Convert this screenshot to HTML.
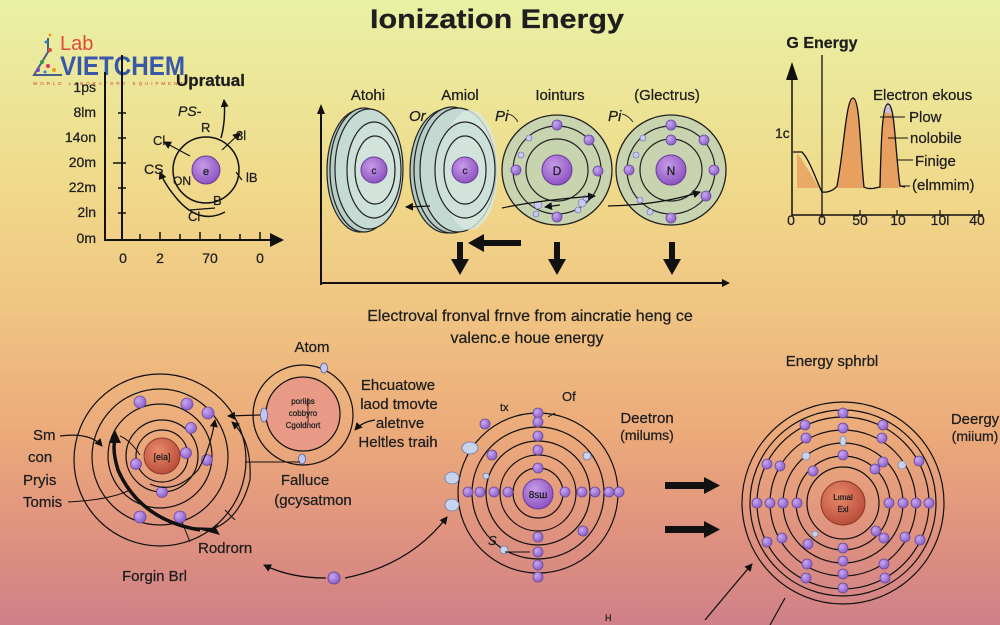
<!DOCTYPE html>
<html><head><meta charset="utf-8"><style>
html,body{margin:0;padding:0;width:1000px;height:625px;overflow:hidden}
svg{display:block}
text{font-family:"Liberation Sans",sans-serif;fill:#1e1e1e;stroke:#1e1e1e;stroke-width:0.25}
</style></head><body>
<svg width="1000" height="625" viewBox="0 0 1000 625" xmlns="http://www.w3.org/2000/svg">
<defs>
<linearGradient id="bg" x1="0" y1="0" x2="0" y2="1">
<stop offset="0" stop-color="#e9f1a4"/>
<stop offset="0.3" stop-color="#f0d98a"/>
<stop offset="0.5" stop-color="#f0c482"/>
<stop offset="0.7" stop-color="#eba97a"/>
<stop offset="0.87" stop-color="#de9080"/>
<stop offset="1" stop-color="#cf8088"/>
</linearGradient>
<radialGradient id="nuc" cx="0.4" cy="0.35" r="0.7">
<stop offset="0" stop-color="#c79be8"/><stop offset="1" stop-color="#8a4fbf"/>
</radialGradient>
<radialGradient id="red" cx="0.4" cy="0.35" r="0.7">
<stop offset="0" stop-color="#e88a6a"/><stop offset="1" stop-color="#b84a38"/>
</radialGradient>
<radialGradient id="el" cx="0.35" cy="0.35" r="0.7">
<stop offset="0" stop-color="#c8a8f0"/><stop offset="1" stop-color="#8a5cc8"/>
</radialGradient>
<marker id="ah" markerWidth="8" markerHeight="8" refX="7" refY="4" orient="auto" markerUnits="userSpaceOnUse">
<path d="M0,0 L8,4 L0,8 z" fill="#111"/></marker>
<marker id="ahb" markerWidth="14" markerHeight="14" refX="12" refY="7" orient="auto" markerUnits="userSpaceOnUse">
<path d="M0,0 L14,7 L0,14 z" fill="#111"/></marker>
</defs>
<rect width="1000" height="625" fill="url(#bg)"/>

<!-- Title -->
<text x="497" y="28" font-size="27" font-weight="bold" text-anchor="middle" textLength="254" lengthAdjust="spacingAndGlyphs">Ionization Energy</text>

<!-- Logo -->
<g>
<path d="M48,38 L48,52 L34,75 L62,75" fill="none" stroke="#4a5c8a" stroke-width="2"/>
<circle cx="50" cy="35" r="1.5" fill="#e8a020"/><circle cx="46" cy="42" r="1.5" fill="#3080d0"/>
<circle cx="50" cy="50" r="2" fill="#e05030"/><circle cx="42" cy="62" r="2" fill="#30a050"/>
<circle cx="48" cy="66" r="2" fill="#e03060"/><circle cx="38" cy="70" r="2" fill="#8040c0"/>
<circle cx="54" cy="70" r="2" fill="#e8a020"/><circle cx="45" cy="72" r="1.5" fill="#3080d0"/>
<text x="60" y="50" font-size="20" style="fill:#e04a3a;stroke:none">Lab</text>
<text x="60" y="75" font-size="27" font-weight="bold" style="fill:#3a58a8;stroke:none" textLength="125" lengthAdjust="spacingAndGlyphs">VIETCHEM</text>
<text x="33" y="85" font-size="4.5" style="fill:#d03a30;stroke:none" textLength="150" lengthAdjust="spacing">WORLD LABORATORY EQUIPMENT</text>
</g>

<!-- Top-left chart -->
<g stroke="#111" stroke-width="2" fill="none">
<line x1="105" y1="72" x2="105" y2="241"/>
<line x1="122" y1="55" x2="122" y2="241"/>
<line x1="105" y1="240" x2="282" y2="240" marker-end="url(#ahb)"/>
</g>
<g stroke="#111" stroke-width="1.5">
<line x1="118" y1="113" x2="126" y2="113"/><line x1="118" y1="138" x2="126" y2="138"/>
<line x1="113" y1="163" x2="126" y2="163"/><line x1="118" y1="188" x2="126" y2="188"/>
<line x1="118" y1="213" x2="126" y2="213"/>
<line x1="140" y1="234" x2="140" y2="240"/><line x1="160" y1="232" x2="160" y2="240"/>
<line x1="180" y1="234" x2="180" y2="240"/><line x1="200" y1="232" x2="200" y2="240"/>
<line x1="220" y1="234" x2="220" y2="240"/><line x1="240" y1="234" x2="240" y2="240"/>
<line x1="260" y1="232" x2="260" y2="240"/>
</g>
<g font-size="14" text-anchor="end">
<text x="96" y="92">1ps</text><text x="96" y="117">8lm</text><text x="96" y="142">14on</text>
<text x="96" y="167">20m</text><text x="96" y="192">22m</text><text x="96" y="217">2ln</text>
<text x="96" y="243">0m</text>
</g>
<g font-size="14" text-anchor="middle">
<text x="123" y="263">0</text><text x="160" y="263">2</text><text x="210" y="263">70</text><text x="260" y="263">0</text>
</g>
<text x="176" y="86" font-size="17" font-weight="bold">Upratual</text>
<circle cx="206" cy="170" r="33" fill="none" stroke="#111" stroke-width="1.5"/>
<circle cx="206" cy="170" r="14" fill="url(#nuc)" stroke="#6a3a9a"/>
<text x="206" y="175" font-size="11" text-anchor="middle">e</text>
<path d="M221,138 Q226,120 224,100" fill="none" stroke="#111" stroke-width="1.5" marker-end="url(#ah)"/>
<path d="M222,150 L240,133" stroke="#111" stroke-width="1.2" marker-end="url(#ah)"/>
<path d="M190,156 L164,142" stroke="#111" stroke-width="1.2" marker-end="url(#ah)"/>
<path d="M225,212 Q200,225 178,200 Q165,185 160,172" fill="none" stroke="#111" stroke-width="1.5" marker-end="url(#ah)"/>
<path d="M190,210 L215,208" stroke="#111" stroke-width="1.2"/>
<path d="M236,172 L242,180" stroke="#111" stroke-width="1.2"/>
<g font-size="13">
<text x="178" y="116" font-style="italic" font-size="14">PS-</text>
<text x="201" y="132">R</text><text x="236" y="140">3l</text>
<text x="153" y="145">Cl</text><text x="144" y="174" font-size="14">CS</text>
<text x="173" y="185" font-size="12">ON</text><text x="246" y="182">lB</text>
<text x="213" y="205">B</text><text x="188" y="221">Cl</text>
</g>

<!-- Top-middle chart -->
<g stroke="#111" stroke-width="2" fill="none">
<line x1="321" y1="112" x2="321" y2="285"/>
<line x1="320" y1="283" x2="728" y2="283"/>
</g>
<path d="M317,114 L321,104 L325,114z" fill="#111"/>
<path d="M722,279 L730,283 L722,287z" fill="#111"/>
<g font-size="15" text-anchor="middle">
<text x="368" y="100">Atohi</text><text x="460" y="100">Amiol</text>
<text x="560" y="100">Iointurs</text><text x="667" y="100">(Glectrus)</text>
</g>
<g font-size="15" font-style="italic">
<text x="409" y="121">Or</text><text x="495" y="121">Pi</text><text x="608" y="121">Pi</text>
</g>
<path d="M508,114 Q514,115 518,122" stroke="#333" fill="none"/>
<path d="M622,114 Q628,115 633,122" stroke="#333" fill="none"/>
<!-- disc 1 -->
<ellipse cx="360" cy="171" rx="33" ry="61" fill="#b2c9c2" stroke="#222" stroke-width="1.2"/>
<ellipse cx="364" cy="170" rx="34" ry="62" fill="#b7cdc6" stroke="#222" stroke-width="1.2"/>
<ellipse cx="369" cy="169" rx="34" ry="60" fill="#c6dbd4" stroke="#222" stroke-width="1.2"/>
<ellipse cx="374" cy="170" rx="27" ry="48" fill="#cde0d9" stroke="#222" stroke-width="1.2"/>
<ellipse cx="375" cy="170" rx="20" ry="34" fill="#d2e3dc" stroke="#222" stroke-width="1.2"/>
<circle cx="374" cy="170" r="13" fill="url(#nuc)" stroke="#6a3a9a"/>
<text x="374" y="174" font-size="10" text-anchor="middle">c</text>
<!-- disc 2 -->
<ellipse cx="447" cy="171" rx="37" ry="62" fill="#b2c9c2" stroke="#222" stroke-width="1.2"/>
<ellipse cx="452" cy="170" rx="38" ry="63" fill="#b7cdc6" stroke="#222" stroke-width="1.2"/>
<ellipse cx="458" cy="170" rx="38" ry="62" fill="#c4d9d2" stroke="#222" stroke-width="1.2"/>
<ellipse cx="470" cy="170" rx="28" ry="60" fill="#d8e8e0" stroke="none" opacity="0.8"/>
<ellipse cx="465" cy="170" rx="30" ry="48" fill="#cde0d9" stroke="#222" stroke-width="1.2"/>
<ellipse cx="465" cy="170" rx="21" ry="34" fill="#d2e3dc" stroke="#222" stroke-width="1.2"/>
<circle cx="465" cy="170" r="13" fill="url(#nuc)" stroke="#6a3a9a"/>
<text x="465" y="174" font-size="10" text-anchor="middle">c</text>
<path d="M430,206 L406,207" stroke="#111" stroke-width="1.3" marker-end="url(#ah)"/>
<!-- atom 3 -->
<circle cx="557" cy="170" r="55" fill="#c8d3af" stroke="#222" stroke-width="1.3"/>
<circle cx="557" cy="170" r="44" fill="none" stroke="#222" stroke-width="1.2"/>
<circle cx="557" cy="170" r="31" fill="none" stroke="#222" stroke-width="1.2"/>
<circle cx="557" cy="170" r="15" fill="url(#nuc)" stroke="#6a3a9a"/>
<text x="557" y="175" font-size="12" text-anchor="middle">D</text>
<g fill="url(#el)" stroke="#6a4a9a" stroke-width="0.8">
<circle cx="557" cy="125" r="5"/><circle cx="589" cy="140" r="5"/><circle cx="516" cy="170" r="5"/>
<circle cx="598" cy="171" r="5"/><circle cx="557" cy="217" r="5"/>
</g>
<g fill="#c8c8f0" stroke="#6a6aaa" stroke-width="0.6">
<circle cx="529" cy="138" r="3"/><circle cx="521" cy="155" r="3"/><circle cx="538" cy="205" r="4"/>
<circle cx="536" cy="214" r="3"/><circle cx="582" cy="203" r="4"/><circle cx="586" cy="198" r="3"/><circle cx="578" cy="210" r="3"/>
</g>
<path d="M502,208 Q540,200 595,196" fill="none" stroke="#111" stroke-width="1.2" marker-end="url(#ah)"/>
<path d="M560,205 L545,207" stroke="#111" stroke-width="1.2" marker-end="url(#ah)"/>
<!-- atom 4 -->
<circle cx="671" cy="170" r="55" fill="#c8d3af" stroke="#222" stroke-width="1.3"/>
<circle cx="671" cy="170" r="44" fill="none" stroke="#222" stroke-width="1.2"/>
<circle cx="671" cy="170" r="31" fill="none" stroke="#222" stroke-width="1.2"/>
<circle cx="671" cy="170" r="15" fill="url(#nuc)" stroke="#6a3a9a"/>
<text x="671" y="175" font-size="12" text-anchor="middle">N</text>
<g fill="url(#el)" stroke="#6a4a9a" stroke-width="0.8">
<circle cx="671" cy="125" r="5"/><circle cx="671" cy="140" r="5"/><circle cx="704" cy="140" r="5"/>
<circle cx="629" cy="170" r="5"/><circle cx="714" cy="170" r="5"/><circle cx="706" cy="196" r="5"/>
<circle cx="671" cy="218" r="5"/>
</g>
<g fill="#c8c8f0" stroke="#6a6aaa" stroke-width="0.6">
<circle cx="643" cy="138" r="3"/><circle cx="636" cy="155" r="3"/><circle cx="640" cy="200" r="3"/><circle cx="650" cy="212" r="3"/>
</g>
<path d="M608,206 Q660,205 700,192" fill="none" stroke="#111" stroke-width="1.2" marker-end="url(#ah)"/>
<!-- big arrows -->
<g fill="#111">
<rect x="457" y="242" width="6" height="18"/><path d="M451,259 L469,259 L460,275z"/>
<rect x="554" y="242" width="6" height="18"/><path d="M548,259 L566,259 L557,275z"/>
<rect x="669" y="242" width="6" height="18"/><path d="M663,259 L681,259 L672,275z"/>
<rect x="482" y="240" width="39" height="6"/><path d="M484,234 L484,252 L468,243z"/>
</g>

<!-- Top-right chart -->
<text x="822" y="48" font-size="16" font-weight="bold" text-anchor="middle">G Energy</text>
<line x1="822" y1="55" x2="822" y2="218" stroke="#111" stroke-width="1.3"/>
<line x1="792" y1="78" x2="792" y2="216" stroke="#111" stroke-width="1.5"/>
<path d="M786,80 L792,62 L798,80z" fill="#111"/>
<line x1="792" y1="215" x2="983" y2="215" stroke="#111" stroke-width="1.5"/>
<g stroke="#111" stroke-width="1.2">
<line x1="822" y1="210" x2="822" y2="215"/><line x1="860" y1="210" x2="860" y2="215"/>
<line x1="897" y1="210" x2="897" y2="215"/><line x1="940" y1="210" x2="940" y2="215"/>
<line x1="979" y1="210" x2="979" y2="215"/>
</g>
<path d="M797,153 C806,165 814,180 820,188 L797,188 Z" fill="#e8a060" opacity="0.85"/>
<path d="M836,188 C844,150 846,98 853,98 C860,98 860,150 864,188 Z" fill="#e8a060"/>
<path d="M879,188 C881,145 882,104 888,104 C895,104 895,150 900,188 Z" fill="#e8a060"/>
<path d="M882,112 L888,100 L892,114 Z" fill="#c8c0d8"/>
<path d="M793,152 L802,152 C810,160 818,185 822,192 C828,193 834,190 837,186 C844,150 846,98 853,98 C860,98 860,150 864,187 C869,190 876,188 880,187 C881,145 882,104 888,104 C895,104 895,150 900,186 L905,187" fill="none" stroke="#111" stroke-width="1.3"/>
<g font-size="15">
<text x="775" y="138" font-size="14">1c</text>
<text x="873" y="100">Electron ekous</text>
<text x="909" y="122">Plow</text><text x="910" y="143">nolobile</text>
<text x="915" y="166">Finige</text><text x="912" y="190">(elmmim)</text>
</g>
<g stroke="#111" stroke-width="1">
<line x1="880" y1="117" x2="905" y2="117"/><line x1="888" y1="138" x2="908" y2="138"/>
<line x1="897" y1="160" x2="913" y2="160"/><line x1="900" y1="186" x2="910" y2="186"/>
</g>
<g font-size="14" text-anchor="middle">
<text x="791" y="225">0</text><text x="822" y="225">0</text><text x="860" y="225">50</text>
<text x="898" y="225">10</text><text x="940" y="225">10l</text><text x="977" y="225">40</text>
</g>

<!-- Middle text -->
<text x="530" y="321" font-size="16" text-anchor="middle">Electroval fronval frnve from aincratie heng ce</text>
<text x="527" y="343" font-size="16" text-anchor="middle">valenc.e houe energy</text>

<!-- Bottom-left atom -->
<g fill="none" stroke="#111" stroke-width="1.2">
<circle cx="160" cy="460" r="86"/>
<circle cx="160" cy="457" r="68"/>
<circle cx="160" cy="456" r="52"/>
<circle cx="162" cy="456" r="36"/>
<circle cx="162" cy="456" r="26"/>
</g>
<circle cx="162" cy="456" r="18" fill="url(#red)" stroke="#8a3a2a"/>
<text x="162" y="460" font-size="9" text-anchor="middle">[ela]</text>
<g fill="url(#el)" stroke="#6a4a9a" stroke-width="0.8">
<circle cx="140" cy="402" r="6"/><circle cx="187" cy="404" r="6"/><circle cx="208" cy="413" r="6"/>
<circle cx="191" cy="428" r="5.5"/><circle cx="186" cy="453" r="5.5"/><circle cx="207" cy="460" r="5.5"/>
<circle cx="136" cy="464" r="5.5"/><circle cx="162" cy="492" r="5.5"/><circle cx="140" cy="517" r="6"/>
<circle cx="180" cy="517" r="6"/>
</g>
<path d="M200,530 Q140,520 118,470 Q112,450 115,440" fill="none" stroke="#111" stroke-width="3.5"/>
<path d="M109,443 L115,430 L121,443z" fill="#111"/>
<path d="M60,436 Q90,432 102,446" fill="none" stroke="#111" stroke-width="1.2" marker-end="url(#ah)"/>
<path d="M120,436 Q130,440 140,455" fill="none" stroke="#111" stroke-width="1"/>
<path d="M68,502 Q110,500 130,490" fill="none" stroke="#111" stroke-width="1"/>
<path d="M150,484 Q175,495 198,470 Q210,450 215,420" fill="none" stroke="#111" stroke-width="1.2" marker-end="url(#ah)"/>
<path d="M210,530 Q240,520 250,480 Q252,440 232,422" fill="none" stroke="#111" stroke-width="1.2" marker-end="url(#ah)"/>
<path d="M210,530 L218,525" stroke="#111"/>
<path d="M190,527 L220,535 L216,528z" fill="#111"/>
<path d="M190,542 L182,522" stroke="#111"/><path d="M235,520 L225,510" stroke="#111"/>
<g font-size="15">
<text x="33" y="440">Sm</text><text x="28" y="462">con</text><text x="23" y="485">Pryis</text><text x="23" y="507">Tomis</text>
<text x="198" y="553">Rodrorn</text><text x="122" y="581">Forgin Brl</text>
</g>

<!-- small atom -->
<text x="312" y="352" font-size="15" text-anchor="middle">Atom</text>
<circle cx="303" cy="415" r="50" fill="none" stroke="#111" stroke-width="1.2"/>
<circle cx="303" cy="414" r="37" fill="#e89a86" stroke="#111" stroke-width="1.2"/>
<g font-size="8" text-anchor="middle">
<text x="303" y="404">poriips</text><text x="303" y="416">cobbyro</text><text x="303" y="428">Cgoldnort</text>
</g>
<line x1="308" y1="398" x2="308" y2="423" stroke="#111" stroke-width="0.8"/>
<g fill="#c0c8f0" stroke="#5a5a9a" stroke-width="0.8">
<ellipse cx="264" cy="415" rx="3.5" ry="7"/><ellipse cx="324" cy="368" rx="3.5" ry="5"/><ellipse cx="302" cy="459" rx="3.5" ry="5"/>
</g>
<path d="M260,415 L228,416" stroke="#111" stroke-width="1.2" marker-end="url(#ah)"/>
<path d="M245,462 L300,462" stroke="#111" stroke-width="1"/>
<path d="M375,420 Q362,422 355,430" fill="none" stroke="#111" stroke-width="1.2" marker-end="url(#ah)"/>
<g font-size="15" text-anchor="middle">
<text x="305" y="485">Falluce</text><text x="313" y="505">(gcysatmon</text>
<text x="398" y="390">Ehcuatowe</text><text x="399" y="409">laod tmovte</text>
<text x="400" y="428">aletnve</text><text x="398" y="447">Heltles traih</text>
</g>
<path d="M326,578 Q290,578 264,565" fill="none" stroke="#111" stroke-width="1.3" marker-end="url(#ah)"/>
<circle cx="334" cy="578" r="6" fill="url(#el)" stroke="#6a4a9a"/>
<path d="M345,578 Q410,565 447,517" fill="none" stroke="#111" stroke-width="1.3" marker-end="url(#ah)"/>

<!-- Bottom-middle atom -->
<g fill="none" stroke="#111" stroke-width="1.2">
<circle cx="538" cy="493" r="25"/><circle cx="538" cy="493" r="38"/><circle cx="538" cy="493" r="52"/>
<circle cx="538" cy="493" r="66"/><circle cx="538" cy="493" r="80"/>
</g>
<circle cx="538" cy="494" r="15" fill="url(#nuc)" stroke="#6a3a9a"/>
<text x="538" y="498" font-size="10" text-anchor="middle">8sш</text>
<g fill="url(#el)" stroke="#6a4a9a" stroke-width="0.8">
<circle cx="538" cy="413" r="5"/><circle cx="538" cy="422" r="5"/><circle cx="538" cy="436" r="5"/><circle cx="538" cy="450" r="5"/>
<circle cx="538" cy="468" r="5"/>
<circle cx="538" cy="537" r="5"/><circle cx="538" cy="552" r="5"/><circle cx="538" cy="565" r="5"/><circle cx="538" cy="577" r="5"/>
<circle cx="468" cy="492" r="5"/><circle cx="480" cy="492" r="5"/><circle cx="494" cy="492" r="5"/><circle cx="508" cy="492" r="5"/>
<circle cx="565" cy="492" r="5"/><circle cx="582" cy="492" r="5"/><circle cx="595" cy="492" r="5"/><circle cx="609" cy="492" r="5"/><circle cx="619" cy="492" r="5"/>
<circle cx="485" cy="424" r="5"/><circle cx="492" cy="455" r="5"/><circle cx="583" cy="531" r="5"/>
</g>
<g fill="#c8d4ee" stroke="#6a7aaa" stroke-width="0.8">
<ellipse cx="470" cy="448" rx="8" ry="6"/><ellipse cx="452" cy="478" rx="7" ry="6"/><ellipse cx="452" cy="505" rx="7" ry="6"/>
<circle cx="486" cy="476" r="3"/><circle cx="504" cy="550" r="4"/><circle cx="587" cy="456" r="4"/>
</g>
<path d="M505,552 L530,552" stroke="#111"/>
<path d="M555,413 L548,417" stroke="#111"/>
<text x="500" y="411" font-size="11">tx</text>
<text x="562" y="401" font-size="13">Of</text>
<text x="488" y="545" font-size="13" font-style="italic">S</text>
<text x="647" y="423" font-size="15" text-anchor="middle">Deetron</text>
<text x="647" y="440" font-size="14" text-anchor="middle">(milums)</text>
<g fill="#111">
<rect x="665" y="482" width="40" height="7"/><path d="M704,477 L720,485.5 L704,494z"/>
<rect x="665" y="526" width="40" height="7"/><path d="M704,521 L720,529.5 L704,538z"/>
</g>
<text x="605" y="621" font-size="9">Н</text>

<!-- Bottom-right atom -->
<text x="832" y="366" font-size="15" text-anchor="middle">Energy sphrbl</text>
<text x="975" y="424" font-size="15" text-anchor="middle">Deergy</text>
<text x="975" y="441" font-size="14" text-anchor="middle">(miium)</text>
<g fill="none" stroke="#111" stroke-width="1.2">
<circle cx="843" cy="503" r="101"/><circle cx="843" cy="503" r="93"/><circle cx="843" cy="503" r="86"/>
<circle cx="843" cy="503" r="73"/><circle cx="843" cy="503" r="60"/><circle cx="843" cy="503" r="47"/>
<circle cx="843" cy="503" r="36"/>
</g>
<circle cx="843" cy="503" r="22" fill="url(#red)" stroke="#8a3a2a"/>
<text x="843" y="500" font-size="8" text-anchor="middle">Lımal</text>
<text x="843" y="512" font-size="8" text-anchor="middle">Exl</text>
<g fill="url(#el)" stroke="#6a4a9a" stroke-width="0.8">
<circle cx="843" cy="413" r="5"/><circle cx="843" cy="428" r="5"/><circle cx="843" cy="455" r="5"/>
<circle cx="843" cy="548" r="5"/><circle cx="843" cy="561" r="5"/><circle cx="843" cy="574" r="5"/><circle cx="843" cy="588" r="5"/>
<circle cx="757" cy="503" r="5"/><circle cx="770" cy="503" r="5"/><circle cx="783" cy="503" r="5"/><circle cx="797" cy="503" r="5"/>
<circle cx="889" cy="503" r="5"/><circle cx="903" cy="503" r="5"/><circle cx="916" cy="503" r="5"/><circle cx="929" cy="503" r="5"/>
<circle cx="805" cy="425" r="5"/><circle cx="806" cy="438" r="5"/><circle cx="883" cy="425" r="5"/><circle cx="882" cy="438" r="5"/>
<circle cx="767" cy="464" r="5"/><circle cx="780" cy="466" r="5"/><circle cx="813" cy="471" r="5"/><circle cx="875" cy="469" r="5"/>
<circle cx="883" cy="462" r="5"/><circle cx="919" cy="461" r="5"/>
<circle cx="767" cy="542" r="5"/><circle cx="782" cy="538" r="5"/><circle cx="808" cy="544" r="5"/><circle cx="876" cy="531" r="5"/>
<circle cx="884" cy="538" r="5"/><circle cx="905" cy="537" r="5"/><circle cx="920" cy="540" r="5"/>
<circle cx="807" cy="564" r="5"/><circle cx="806" cy="578" r="5"/><circle cx="884" cy="564" r="5"/><circle cx="885" cy="578" r="5"/>
</g>
<g fill="#c8d4ee" stroke="#6a7aaa" stroke-width="0.6">
<ellipse cx="843" cy="441" rx="3" ry="5"/><circle cx="806" cy="456" r="4"/><circle cx="902" cy="465" r="4"/>
<circle cx="815" cy="534" r="3"/>
</g>
<path d="M705,620 Q730,590 752,564" fill="none" stroke="#111" stroke-width="1.3" marker-end="url(#ah)"/>
<path d="M785,598 L770,625" stroke="#111" stroke-width="1.2"/>
</svg>
</body></html>
